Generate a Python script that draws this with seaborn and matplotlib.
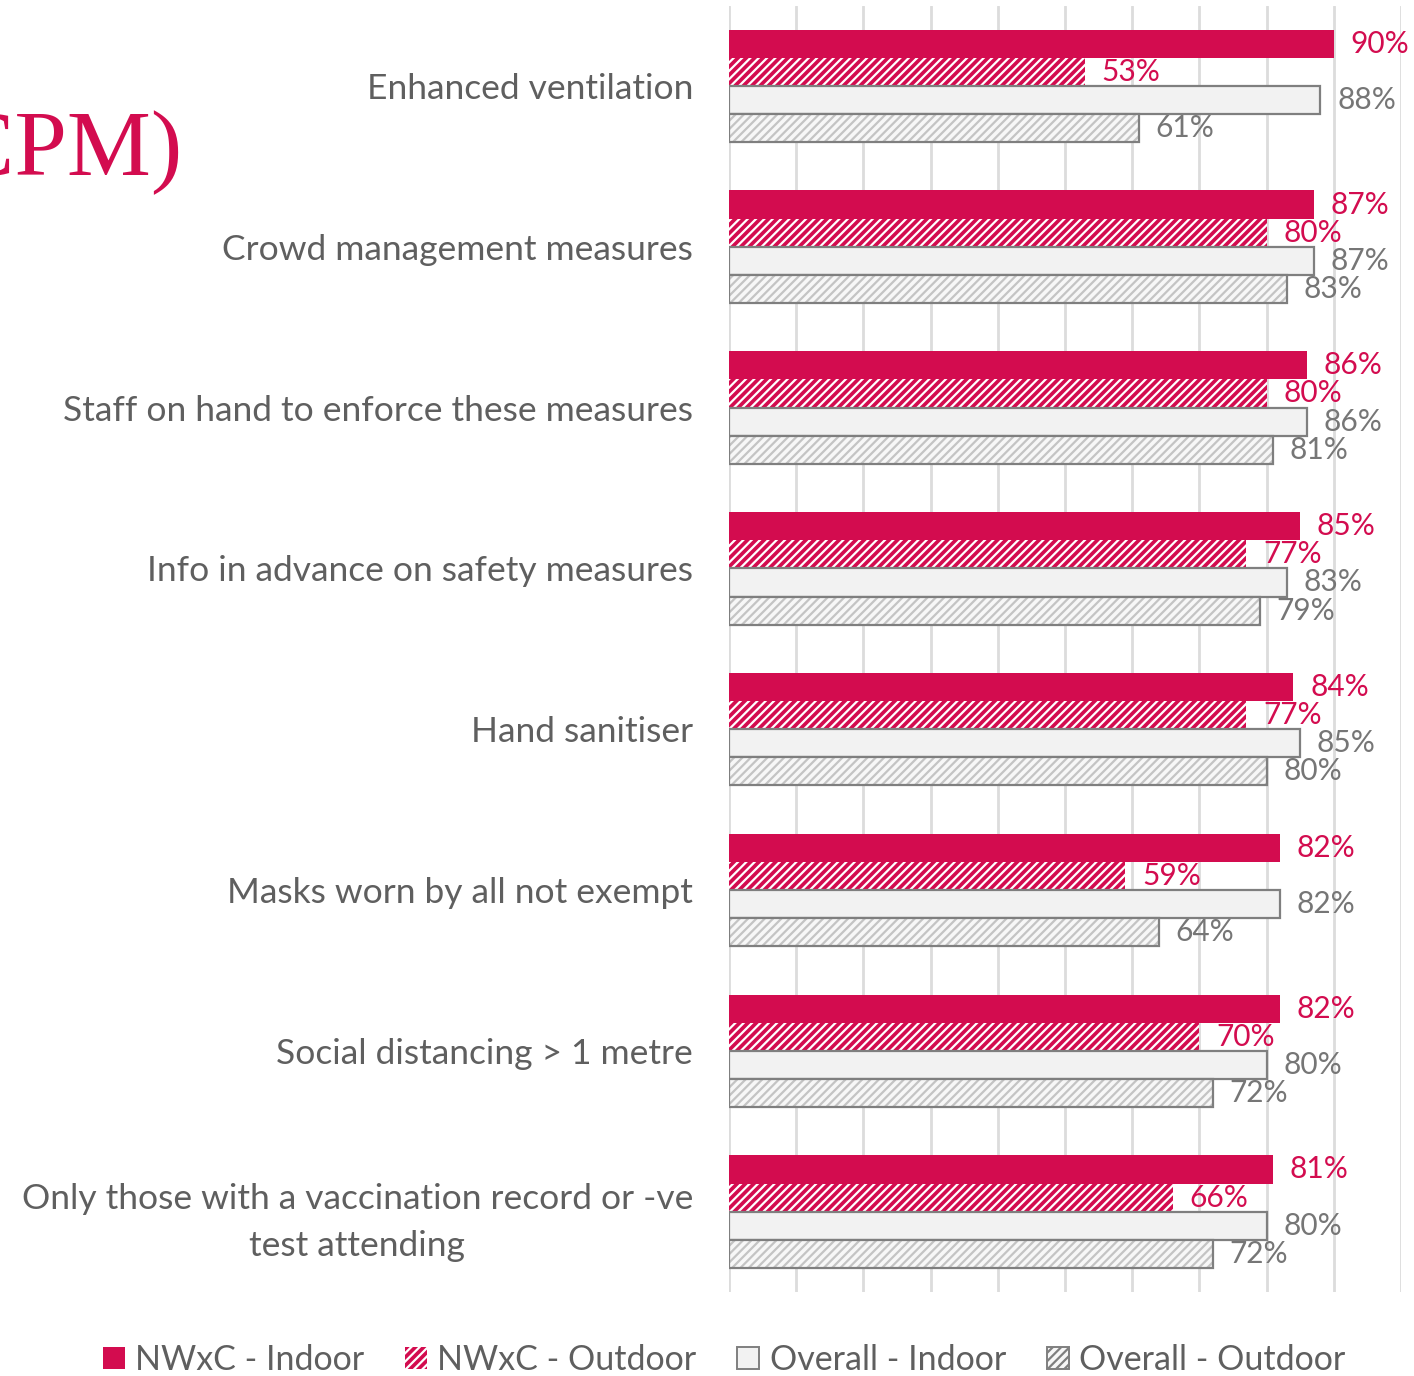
import numpy as np
import pandas as pd
import seaborn as sns
import matplotlib.pyplot as plt
from matplotlib.patches import Rectangle, Patch

# ---- data -------------------------------------------------------------
categories = [
    "Enhanced ventilation",
    "Crowd management measures",
    "Staff on hand to enforce these measures",
    "Info in advance on safety measures",
    "Hand sanitiser",
    "Masks worn by all not exempt",
    "Social distancing > 1 metre",
    "Only those with a vaccination record or -ve\ntest attending",
]
series = ["NWxC - Indoor", "NWxC - Outdoor", "Overall - Indoor", "Overall - Outdoor"]
nwxc_indoor = [90, 87, 86, 85, 84, 82, 82, 81]
nwxc_outdoor = [53, 80, 80, 77, 77, 59, 70, 66]
overall_indoor = [88, 87, 86, 83, 85, 82, 80, 80]
overall_outdoor = [61, 83, 81, 79, 80, 64, 72, 72]

df = pd.DataFrame({
    "category": categories * 4,
    "series": np.repeat(series, len(categories)),
    "value": nwxc_indoor + nwxc_outdoor + overall_indoor + overall_outdoor,
})

# ---- style ------------------------------------------------------------
CRIMSON = "#D30C4F"
GREY_EDGE = "#7F7F7F"
GREY_TEXT = "#767676"
LABEL_TEXT = "#5F5F5F"

sns.set_theme(style="white")
plt.rcParams["font.family"] = ["Lato", "DejaVu Sans"]
plt.rcParams["hatch.linewidth"] = 1.6

fig = plt.figure(figsize=(14.14, 13.76), dpi=100)
ax = fig.add_axes([0.5156, 0.061, 0.4752, 0.935])

palette = {series[0]: CRIMSON, series[1]: CRIMSON,
           series[2]: "#F2F2F2", series[3]: "#F7F7F7"}
sns.barplot(data=df, y="category", x="value", hue="series", hue_order=series,
            order=categories, orient="h", width=0.7, palette=palette,
            saturation=1, legend=False, ax=ax, errorbar=None)

styles = [
    dict(hatch=None, ec="none", lw=0, outline=None, text=CRIMSON),
    dict(hatch="////", ec="white", lw=0, outline=None, text=CRIMSON),
    dict(hatch=None, ec=GREY_EDGE, lw=1.6, outline=None, text=GREY_TEXT),
    dict(hatch="////", ec="#C4C4C4", lw=0, outline=GREY_EDGE, text=GREY_TEXT),
]

for cont, st in zip(ax.containers, styles):
    for bar in cont:
        bar.set_edgecolor(st["ec"])
        bar.set_linewidth(st["lw"])
        if st["hatch"]:
            bar.set_hatch(st["hatch"])
        if st["outline"]:
            ax.add_patch(Rectangle(bar.get_xy(), bar.get_width(), bar.get_height(),
                                   fill=False, ec=st["outline"], lw=1.6, zorder=3))
    ax.bar_label(cont, fmt="{:.0f}%", padding=12, color=st["text"], fontsize=21.5)

ax.set_xlim(0, 100)
ax.set_ylim(len(categories) - 0.5, -0.5)
ax.set_xticks(np.arange(0, 101, 10))
ax.set_xticklabels([])
ax.xaxis.grid(True, color="#DCDCDC", lw=2)
ax.set_axisbelow(True)
for sp in ax.spines.values():
    sp.set_visible(False)
ax.set_xlabel("")
ax.set_ylabel("")
ax.tick_params(axis="y", length=0, pad=26, labelsize=25.5, labelcolor=LABEL_TEXT)
ax.tick_params(axis="x", length=0)
for lbl in ax.get_yticklabels():
    lbl.set_multialignment("center")
    lbl.set_linespacing(1.6)

# legend
handles = [
    Patch(fc=CRIMSON, ec="none", lw=0),
    Patch(fc=CRIMSON, ec="white", hatch="////", lw=0),
    Patch(fc="#F2F2F2", ec=GREY_EDGE, lw=1.4),
    Patch(fc="#F7F7F7", ec=GREY_EDGE, hatch="////", lw=1.4),
]
fig.legend(handles=handles, labels=series, loc="center", ncol=4, frameon=False,
           bbox_to_anchor=(724 / 1414, 1 - 1360 / 1376), fontsize=24.5,
           labelcolor=LABEL_TEXT, handlelength=0.65, handleheight=0.65,
           handletextpad=0.3, columnspacing=1.2)

# title fragment at top left
fig.text(183 / 1414, 1 - 175 / 1376, "(CPM)", ha="right", va="baseline",
         fontsize=68, color=CRIMSON, family="Liberation Serif")

fig.savefig("out.png", dpi=100)
